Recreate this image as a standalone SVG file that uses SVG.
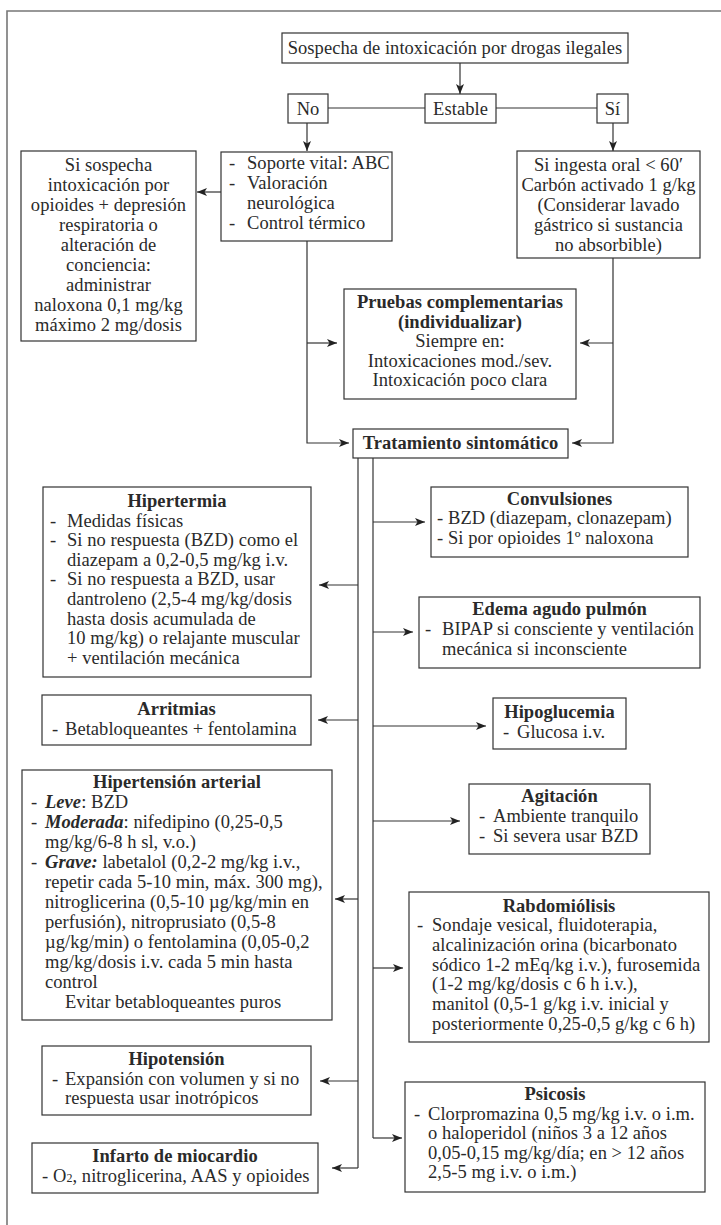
<svg xmlns="http://www.w3.org/2000/svg" width="721" height="1225" viewBox="0 0 721 1225">
<defs>
<style>
text{font-family:"Liberation Serif","Times New Roman",serif;font-size:18.5px;fill:#2a2a2a;letter-spacing:0.05px}
.c{text-anchor:middle}
.b{font-weight:bold}
.bi{font-weight:bold;font-style:italic}
.box{fill:#fff;stroke:#333;stroke-width:1.2}
.ln{fill:none;stroke:#333;stroke-width:1.2}
.ar{fill:none;stroke:#333;stroke-width:1.2;marker-end:url(#ah)}
.frame{fill:none;stroke:#777;stroke-width:1.6}
</style>
<marker id="ah" viewBox="0 0 10 8" refX="10" refY="4" markerWidth="10" markerHeight="8" markerUnits="userSpaceOnUse" orient="auto">
<path d="M0,0 L10,4 L0,8 L2.5,4 z" fill="#222"/>
</marker>
</defs>
<rect width="721" height="1225" fill="#fff"/>
<path class="frame" d="M7,1225 V11 H721"/>

<g id="connectors">
<path class="ar" d="M460,63 V94"/>
<path class="ln" d="M328,108 H425 M496,108 H597"/>
<path class="ar" d="M307,123 V151"/>
<path class="ar" d="M613,123 V151"/>
<path class="ar" d="M221,192 H197"/>
<path class="ar" d="M307,241 V443 H349"/>
<path class="ar" d="M307,343 H337"/>
<path class="ar" d="M613,257 V443 H572"/>
<path class="ar" d="M613,343 H580"/>
<path class="ln" d="M358,458 V1168"/>
<path class="ar" d="M358,585 H319"/>
<path class="ar" d="M358,720 H318"/>
<path class="ar" d="M358,899 H335"/>
<path class="ar" d="M358,1081 H320"/>
<path class="ar" d="M358,1168 H332"/>
<path class="ln" d="M373,458 V1138"/>
<path class="ar" d="M373,522 H425"/>
<path class="ar" d="M373,632 H413"/>
<path class="ar" d="M373,726 H486"/>
<path class="ar" d="M373,821 H460"/>
<path class="ar" d="M373,968 H403"/>
<path class="ar" d="M373,1138 H402"/>
</g>

<g id="n-sospecha">
<rect class="box" x="282" y="33" width="346" height="30"/>
<text class="c" x="455" y="54">Sospecha de intoxicación por drogas ilegales</text>
</g>
<g id="n-no">
<rect class="box" x="288" y="94" width="40" height="29"/>
<text class="c" x="308" y="115">No</text>
</g>
<g id="n-estable">
<rect class="box" x="425" y="94" width="71" height="29"/>
<text class="c" x="460.5" y="115">Estable</text>
</g>
<g id="n-si">
<rect class="box" x="597" y="94" width="31" height="29"/>
<text class="c" x="612.5" y="115">Sí</text>
</g>

<g id="n-naloxona">
<rect class="box" x="21" y="151" width="175" height="190"/>
<text class="c" x="108.5" y="171">Si sospecha</text>
<text class="c" x="108.5" y="191">intoxicación por</text>
<text class="c" x="108.5" y="211">opioides + depresión</text>
<text class="c" x="108.5" y="231">respiratoria o</text>
<text class="c" x="108.5" y="251">alteración de</text>
<text class="c" x="108.5" y="271">conciencia:</text>
<text class="c" x="108.5" y="291">administrar</text>
<text class="c" x="108.5" y="311">naloxona 0,1 mg/kg</text>
<text class="c" x="108.5" y="331">máximo 2 mg/dosis</text>
</g>

<g id="n-soporte">
<rect class="box" x="221" y="152" width="171" height="89"/>
<text x="229" y="169">-</text><text x="247" y="169">Soporte vital: ABC</text>
<text x="229" y="189">-</text><text x="247" y="189">Valoración</text>
<text x="247" y="209">neurológica</text>
<text x="229" y="229">-</text><text x="247" y="229">Control térmico</text>
</g>

<g id="n-carbon">
<rect class="box" x="517" y="151" width="183" height="107"/>
<text class="c" x="608.5" y="171">Si ingesta oral &lt; 60′</text>
<text class="c" x="608.5" y="191">Carbón activado 1 g/kg</text>
<text class="c" x="608.5" y="211">(Considerar lavado</text>
<text class="c" x="608.5" y="231">gástrico si sustancia</text>
<text class="c" x="608.5" y="251">no absorbible)</text>
</g>

<g id="n-pruebas">
<rect class="box" x="344" y="289" width="232" height="110"/>
<text class="c b" x="460" y="308">Pruebas complementarias</text>
<text class="c b" x="460" y="328">(individualizar)</text>
<text class="c" x="460" y="347">Siempre en:</text>
<text class="c" x="460" y="367">Intoxicaciones mod./sev.</text>
<text class="c" x="460" y="386">Intoxicación poco clara</text>
</g>

<g id="n-tratamiento">
<rect class="box" x="353" y="429" width="215" height="29"/>
<text class="c b" x="460.5" y="449">Tratamiento sintomático</text>
</g>

<g id="n-hipertermia">
<rect class="box" x="43" y="487" width="268" height="190"/>
<text class="c b" x="177" y="507">Hipertermia</text>
<text x="50" y="526.6">-</text><text x="67" y="526.6">Medidas físicas</text>
<text x="50" y="546.2">-</text><text x="67" y="546.2">Si no respuesta (BZD) como el</text>
<text x="67" y="565.8">diazepam a 0,2-0,5 mg/kg i.v.</text>
<text x="50" y="585.4">-</text><text x="67" y="585.4">Si no respuesta a BZD, usar</text>
<text x="67" y="605">dantroleno (2,5-4 mg/kg/dosis</text>
<text x="67" y="624.6">hasta dosis acumulada de</text>
<text x="67" y="644.2">10 mg/kg) o relajante muscular</text>
<text x="67" y="663.8">+ ventilación mecánica</text>
</g>

<g id="n-arritmias">
<rect class="box" x="42" y="695" width="269" height="50"/>
<text class="c b" x="176.5" y="715">Arritmias</text>
<text x="52" y="735">-</text><text x="65" y="735">Betabloqueantes + fentolamina</text>
</g>

<g id="n-hipertension">
<rect class="box" x="22" y="770" width="310" height="250"/>
<text class="c b" x="177" y="788">Hipertensión arterial</text>
<text x="31" y="808">-</text><text x="45" y="808"><tspan class="bi">Leve</tspan>: BZD</text>
<text x="31" y="828">-</text><text x="45" y="828"><tspan class="bi">Moderada</tspan>: nifedipino (0,25-0,5</text>
<text x="45" y="848">mg/kg/6-8 h sl, v.o.)</text>
<text x="31" y="868">-</text><text x="45" y="868"><tspan class="bi">Grave:</tspan> labetalol (0,2-2 mg/kg i.v.,</text>
<text x="45" y="888">repetir cada 5-10 min, máx. 300 mg),</text>
<text x="45" y="908">nitroglicerina (0,5-10 µg/kg/min en</text>
<text x="45" y="928">perfusión), nitroprusiato (0,5-8</text>
<text x="45" y="948">µg/kg/min) o fentolamina (0,05-0,2</text>
<text x="45" y="968">mg/kg/dosis i.v. cada 5 min hasta</text>
<text x="45" y="988">control</text>
<text x="65" y="1008">Evitar betabloqueantes puros</text>
</g>

<g id="n-hipotension">
<rect class="box" x="42" y="1046" width="269" height="69"/>
<text class="c b" x="176.5" y="1065">Hipotensión</text>
<text x="52" y="1085">-</text><text x="65" y="1085">Expansión con volumen y si no</text>
<text x="65" y="1104">respuesta usar inotrópicos</text>
</g>

<g id="n-infarto">
<rect class="box" x="32" y="1143" width="286" height="50"/>
<text class="c b" x="175" y="1162">Infarto de miocardio</text>
<text x="42" y="1182">-</text><text x="53" y="1182">O<tspan font-size="12">2</tspan>, nitroglicerina, AAS y opioides</text>
</g>

<g id="n-convulsiones">
<rect class="box" x="431" y="487" width="257" height="70"/>
<text class="c b" x="559.5" y="505">Convulsiones</text>
<text x="437" y="524">-</text><text x="448" y="524">BZD (diazepam, clonazepam)</text>
<text x="437" y="544">-</text><text x="448" y="544">Si por opioides 1º naloxona</text>
</g>

<g id="n-edema">
<rect class="box" x="419" y="597" width="281" height="71"/>
<text class="c b" x="559.5" y="615">Edema agudo pulmón</text>
<text x="425" y="635">-</text><text x="442" y="635">BIPAP si consciente y ventilación</text>
<text x="442" y="655">mecánica si inconsciente</text>
</g>

<g id="n-hipoglucemia">
<rect class="box" x="493" y="698" width="133" height="51"/>
<text class="c b" x="559.5" y="718">Hipoglucemia</text>
<text x="503" y="738">-</text><text x="517" y="738">Glucosa i.v.</text>
</g>

<g id="n-agitacion">
<rect class="box" x="469" y="784" width="181" height="70"/>
<text class="c b" x="559.5" y="802">Agitación</text>
<text x="479" y="822">-</text><text x="493" y="822">Ambiente tranquilo</text>
<text x="479" y="842">-</text><text x="493" y="842">Si severa usar BZD</text>
</g>

<g id="n-rabdo">
<rect class="box" x="409" y="892" width="300" height="150"/>
<text class="c b" x="559" y="912">Rabdomiólisis</text>
<text x="417" y="931">-</text><text x="432" y="931">Sondaje vesical, fluidoterapia,</text>
<text x="432" y="951">alcalinización orina (bicarbonato</text>
<text x="432" y="971">sódico 1-2 mEq/kg i.v.), furosemida</text>
<text x="432" y="990">(1-2 mg/kg/dosis c 6 h i.v.),</text>
<text x="432" y="1010">manitol (0,5-1 g/kg i.v. inicial y</text>
<text x="432" y="1030">posteriormente 0,25-0,5 g/kg c 6 h)</text>
</g>

<g id="n-psicosis">
<rect class="box" x="405" y="1082" width="300" height="110"/>
<text class="c b" x="555" y="1100">Psicosis</text>
<text x="414" y="1120">-</text><text x="428" y="1120">Clorpromazina 0,5 mg/kg i.v. o i.m.</text>
<text x="428" y="1139">o haloperidol (niños 3 a 12 años</text>
<text x="428" y="1159">0,05-0,15 mg/kg/día; en &gt; 12 años</text>
<text x="428" y="1178">2,5-5 mg i.v. o i.m.)</text>
</g>
</svg>
